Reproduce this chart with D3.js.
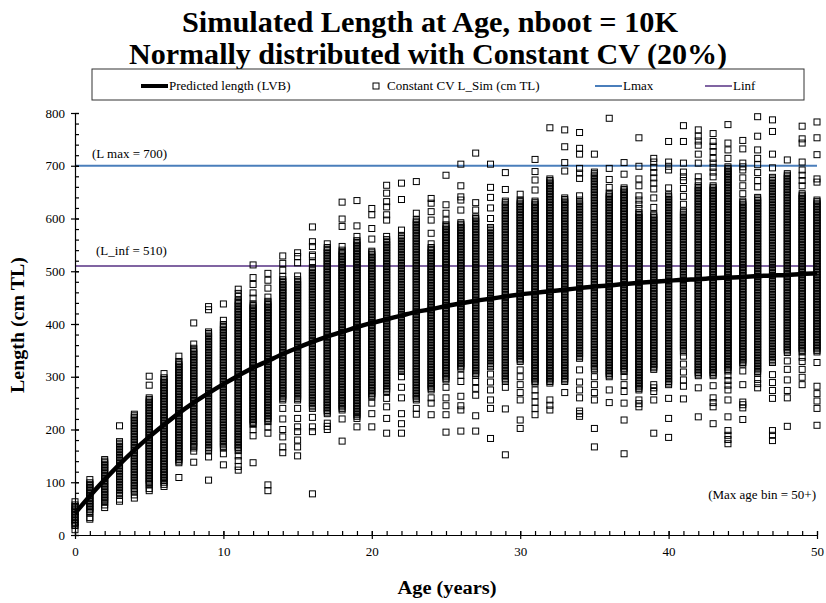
<!DOCTYPE html>
<html>
  <head>
    <meta http-equiv="Content-Type" content="text/html;charset=utf-8"/>
    <script src="https://d3js.org/d3.v7.min.js"></script>
    <style type="text/css">
    body { margin: 0; background: #fff; }
    text { font-family: "Liberation Serif", "Times New Roman", serif; fill: #000; }
    .axis path, .axis line { stroke: #000; stroke-width: 1.2px; }
    .sim { fill: none; stroke: #000; stroke-width: 1px; }
    </style>
  </head>
  <body>
    <script type="text/javascript">
      var ages = [0, 1, 2, 3, 4, 5, 6, 7, 8, 9, 10, 11, 12, 13, 14, 15, 16, 17, 18, 19, 20,
        21, 22, 23, 24, 25, 26, 27, 28, 29, 30, 31, 32, 33, 34, 35, 36, 37, 38, 39, 40,
        41, 42, 43, 44, 45, 46, 47, 48, 49, 50];

      // predicted length (LVB)
      var lvbLength = [41, 74, 105, 134, 161, 186, 209, 231, 251, 269, 286, 302, 317, 330, 343,
        355, 366, 376, 385, 394, 402, 409, 416, 423, 428, 434, 439, 444, 448, 452, 456,
        459, 462, 465, 468, 471, 473, 476, 478, 480, 482, 484, 485, 487, 488, 489, 491,
        492, 493, 495, 496];

      // dense part of the simulated lengths at each age (low / high edge)
      var simLow = [18, 42, 62, 75, 82, 95, 100, 140, 165, 160, 165, 160, 210, 215, 256, 256,
        240, 230, 237, 225, 262, 272, 310, 256, 275, 294, 316, 303, 319, 291, 329, 288,
        288, 291, 335, 313, 300, 310, 275, 314, 285, 347, 302, 302, 311, 324, 307, 327,
        346, 347, 347];
      var simHigh = [58, 100, 145, 178, 230, 262, 300, 330, 355, 385, 400, 445, 440, 445, 485,
        485, 509, 545, 540, 560, 540, 560, 570, 600, 545, 590, 594, 603, 584, 635, 635,
        635, 676, 641, 635, 689, 648, 660, 611, 608, 647, 614, 662, 662, 698, 633, 640,
        679, 685, 649, 637];

      // scattered simulated lengths outside the dense part
      var simOutliers = [
        [10, 63],
        [30, 33, 105],
        [52, 57],
        [64, 68, 207],
        [70, 76],
        [84, 88, 284, 301],
        [92, 96, 306],
        [109, 137, 339],
        [138, 159, 362, 402],
        [104, 148, 427, 433],
        [133, 154, 407, 438],
        [123, 130, 141, 150, 452, 458, 466],
        [137, 188, 200, 449, 459, 475, 488, 512],
        [84, 95, 193, 205, 451, 468, 483, 496],
        [156, 167, 186, 200, 220, 240, 490, 502, 515, 529],
        [150, 167, 180, 196, 205, 221, 240, 491, 516, 528, 535],
        [78, 196, 205, 223, 516, 528, 531, 547, 556, 584],
        [200, 206, 212, 552],
        [178, 220, 547, 585, 599, 631],
        [205, 221, 566, 586, 634],
        [205, 230, 250, 561, 581, 607, 619],
        [193, 221, 243, 259, 566, 597, 607, 622, 632, 648, 663],
        [193, 211, 230, 260, 280, 300, 578, 636, 667],
        [229, 240, 610, 670],
        [228, 250, 260, 552, 572, 597, 613, 629, 638],
        [195, 228, 245, 260, 280, 597, 610, 626, 682],
        [197, 237, 245, 263, 291, 303, 616, 635, 641, 662, 703],
        [197, 226, 265, 278, 291, 616, 630, 724],
        [183, 240, 256, 275, 290, 305, 600, 620, 640, 659, 703],
        [152, 239, 280, 655, 687],
        [202, 218, 256, 270, 285, 300, 313, 646],
        [228, 240, 252, 264, 275, 654, 673, 689, 712],
        [237, 246, 256, 772],
        [270, 690, 706, 736, 768],
        [225, 230, 235, 260, 275, 290, 313, 643, 676, 686, 695, 722, 733, 763],
        [167, 202, 256, 270, 285, 300, 722],
        [251, 275, 659, 674, 695, 790],
        [154, 218, 250, 272, 285, 300, 684, 706],
        [243, 249, 256, 619, 627, 635, 643, 662, 675, 699, 753],
        [193, 256, 272, 279, 285, 621, 639, 656, 667, 677, 687, 697, 707, 714],
        [185, 221, 259, 658, 692, 699, 707, 746],
        [258, 282, 294, 309, 324, 339, 627, 642, 657, 672, 679, 688, 705, 746, 776],
        [224, 279, 670, 679, 705, 722, 739, 747, 756, 768],
        [211, 243, 251, 260, 283, 679, 688, 697, 705, 714, 727, 737, 746, 761],
        [173, 181, 189, 198, 224, 256, 275, 284, 293, 302, 714, 730, 743, 778],
        [219, 241, 247, 252, 285, 311, 647, 662, 677, 692, 698, 705, 732, 748],
        [279, 287, 295, 660, 672, 687, 702, 714, 730, 756, 793],
        [179, 189, 198, 259, 274, 289, 304, 696, 722, 765, 787],
        [206, 260, 274, 294, 314, 330, 711],
        [285, 299, 314, 329, 337, 662, 672, 682, 692, 707, 743, 751, 775],
        [208, 240, 254, 268, 282, 327, 669, 675, 721, 753, 783]
      ];

      var lMax = 700;
      var lInf = 510;
      var yTicks = [0, 100, 200, 300, 400, 500, 600, 700, 800];
      var xTicks = [0, 10, 20, 30, 40, 50];

      var width = 826;
      var height = 603;
      var bandStep = 3;   // spacing used to draw the dense part as stacked markers
      var markerSize = 6;

      var svgContainer = d3.select("body")
        .append("svg")
          .attr("width", width)
          .attr("height", height);

      var xScale = d3.scaleLinear().domain([0, 50]).range([75, 817]);
      var yScale = d3.scaleLinear().domain([0, 800]).range([535, 113]);

      function renderTitle() {
        svgContainer.append("text")
            .attr("x", 430).attr("y", 32)
            .attr("text-anchor", "middle")
            .attr("font-size", 30).attr("font-weight", "bold")
            .attr("textLength", 496).attr("lengthAdjust", "spacingAndGlyphs")
            .text("Simulated Length at Age, nboot = 10K");
        svgContainer.append("text")
            .attr("x", 428).attr("y", 64)
            .attr("text-anchor", "middle")
            .attr("font-size", 30).attr("font-weight", "bold")
            .attr("textLength", 598).attr("lengthAdjust", "spacingAndGlyphs")
            .text("Normally distributed with Constant CV (20%)");
      }

      function renderLegend() {
        var g = svgContainer.append("g");
        g.append("rect")
            .attr("x", 92).attr("y", 69)
            .attr("width", 712).attr("height", 31)
            .attr("fill", "#fff").attr("stroke", "#333").attr("stroke-width", 1);
        var ly = 86;
        g.append("line").attr("x1", 141).attr("x2", 168).attr("y1", ly).attr("y2", ly)
            .attr("stroke", "#000").attr("stroke-width", 4);
        g.append("text").attr("x", 169).attr("y", ly + 4).attr("font-size", 13)
            .text("Predicted length (LVB)");
        g.append("rect").attr("class", "sim")
            .attr("x", 373).attr("y", ly - 3).attr("width", 6).attr("height", 6);
        g.append("text").attr("x", 387).attr("y", ly + 4).attr("font-size", 13)
            .text("Constant CV L_Sim (cm TL)");
        g.append("line").attr("x1", 595).attr("x2", 622).attr("y1", ly).attr("y2", ly)
            .attr("stroke", "#4a7ebb").attr("stroke-width", 2);
        g.append("text").attr("x", 623).attr("y", ly + 4).attr("font-size", 13)
            .text("Lmax");
        g.append("line").attr("x1", 705).attr("x2", 732).attr("y1", ly).attr("y2", ly)
            .attr("stroke", "#8064a2").attr("stroke-width", 2);
        g.append("text").attr("x", 733).attr("y", ly + 4).attr("font-size", 13)
            .text("Linf");
      }

      function renderXAxis() {
        var minor = svgContainer.append("g")
            .classed("axis", true)
            .attr("transform", "translate(0," + yScale(0) + ")")
            .call(d3.axisBottom(xScale).tickValues(ages).tickSize(-4).tickSizeOuter(0).tickFormat(""));
        minor.select(".domain").remove();

        var major = svgContainer.append("g")
            .classed("axis", true)
            .attr("transform", "translate(0," + yScale(0) + ")")
            .call(d3.axisBottom(xScale).tickValues(xTicks).tickSize(4).tickSizeOuter(0).tickPadding(8));
        major.selectAll(".tick line").attr("y1", -4);
        major.selectAll(".tick text").attr("font-size", 13).attr("font-family", null);

        svgContainer.append("text")
            .attr("x", 447).attr("y", 594)
            .attr("text-anchor", "middle")
            .attr("font-size", 18).attr("font-weight", "bold")
            .attr("textLength", 99).attr("lengthAdjust", "spacingAndGlyphs")
            .text("Age (years)");
      }

      function renderYAxis() {
        var minorTicks = d3.range(0, 801, 20);
        var minor = svgContainer.append("g")
            .classed("axis", true)
            .attr("transform", "translate(" + xScale(0) + ",0)")
            .call(d3.axisLeft(yScale).tickValues(minorTicks).tickSize(-4).tickSizeOuter(0).tickFormat(""));
        minor.select(".domain").remove();

        var major = svgContainer.append("g")
            .classed("axis", true)
            .attr("transform", "translate(" + xScale(0) + ",0)")
            .call(d3.axisLeft(yScale).tickValues(yTicks).tickSize(4).tickSizeOuter(0).tickPadding(6));
        major.selectAll(".tick line").attr("x1", 4);
        major.selectAll(".tick text").attr("font-size", 13).attr("font-family", null);

        svgContainer.append("text")
            .attr("transform", "translate(24,325) rotate(-90)")
            .attr("text-anchor", "middle")
            .attr("font-size", 18).attr("font-weight", "bold")
            .attr("textLength", 136).attr("lengthAdjust", "spacingAndGlyphs")
            .text("Length (cm TL)");
      }

      function renderRefLines() {
        [[lMax, "#4a7ebb"], [lInf, "#8064a2"]].forEach(function(d) {
          svgContainer.append("line")
              .attr("x1", xScale(0)).attr("x2", xScale(50))
              .attr("y1", yScale(d[0])).attr("y2", yScale(d[0]))
              .attr("stroke", d[1]).attr("stroke-width", 2);
        });
        svgContainer.append("text")
            .attr("x", 92).attr("y", yScale(lMax) - 8).attr("font-size", 13)
            .text("(L max = " + lMax + ")");
        svgContainer.append("text")
            .attr("x", 96).attr("y", yScale(lInf) - 11).attr("font-size", 13)
            .text("(L_inf = " + lInf + ")");
        svgContainer.append("text")
            .attr("x", 816).attr("y", 499).attr("text-anchor", "end").attr("font-size", 13)
            .text("(Max age bin = 50+)");
      }

      function renderSim() {
        var pts = [];
        ages.forEach(function(a, i) {
          d3.range(simLow[i], simHigh[i] + 0.01, bandStep).forEach(function(v) {
            pts.push([a, v]);
          });
          simOutliers[i].forEach(function(v) { pts.push([a, v]); });
        });
        svgContainer.append("g")
          .selectAll("rect")
          .data(pts)
          .enter().append("rect")
            .attr("class", "sim")
            .attr("x", function(d) { return xScale(d[0]) - markerSize / 2; })
            .attr("y", function(d) { return yScale(d[1]) - markerSize / 2; })
            .attr("width", markerSize)
            .attr("height", markerSize);
      }

      function renderLvb() {
        var line = d3.line()
          .x(function(d, i) { return xScale(ages[i]); })
          .y(function(d) { return yScale(d); })
          .curve(d3.curveMonotoneX);
        svgContainer.append("path")
            .datum(lvbLength)
            .attr("d", line)
            .attr("fill", "none")
            .attr("stroke", "#000")
            .attr("stroke-width", 4.5);
      }

      renderTitle();
      renderLegend();
      renderRefLines();
      renderSim();
      renderLvb();
      renderXAxis();
      renderYAxis();
    </script>
  </body>
</html>
